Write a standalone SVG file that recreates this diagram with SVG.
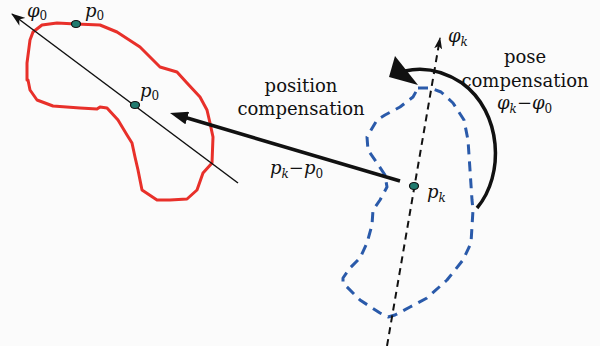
<svg xmlns="http://www.w3.org/2000/svg" width="609" height="346" viewBox="0 0 609 346">
<style>
.lbl{font-family:"DejaVu Serif","Liberation Serif",serif;font-size:18px;fill:#111;text-anchor:middle}
.m{font-family:"DejaVu Serif","Liberation Serif",serif;font-size:18px;fill:#111}
.it{font-style:italic}
.sub{font-size:12px}
.dot{fill:#1f7a6e;stroke:#111;stroke-width:1.2}
</style>
<defs>
<marker id="barb" viewBox="0 0 14 10" refX="13" refY="5" markerWidth="14" markerHeight="10" markerUnits="userSpaceOnUse" orient="auto">
<path d="M0,0 L14,5 L0,10 L4,5 Z" fill="#111"/>
</marker>
<marker id="barbS" viewBox="0 0 12 8" refX="11" refY="4" markerWidth="12" markerHeight="8" markerUnits="userSpaceOnUse" orient="auto">
<path d="M0,0 L12,4 L0,8 L3,4 Z" fill="#111"/>
</marker>
<marker id="tri" viewBox="0 0 18 13" refX="8" refY="6.5" markerWidth="18" markerHeight="13" markerUnits="userSpaceOnUse" orient="auto">
<path d="M0,0 L18,6.5 L0,13 Z" fill="#111"/>
</marker>
</defs>
<rect x="0" y="0" width="600" height="346" fill="#fbfbfb"/>
<rect x="600" y="0" width="9" height="346" fill="#ffffff"/>

<g id="contour-p0">
<polyline fill="none" stroke="#e8302a" stroke-width="3" stroke-linejoin="round" points="76,24 100,25 117,32 140,47 160,67 177,72 187,83 200,97 207,110 210,123 213,137 212,163 203,173 197,190 187,199 170,200 157,200 142,190 138,170 135,157 132,143 127,135 118,120 107,108 100,107 97,109 80,108 53,106 37,100 30,90 28,80 27,80 27,63 30,40 33,32 42,25 57,23 76,24"/>
</g>

<g id="contour-pk">
<path fill="none" stroke="#2a5aaa" stroke-width="3" stroke-dasharray="10 7" stroke-linejoin="round" d="M418,88 L430,88 L441,92 L453,103 L464,120 L468,140 L470,170 L472,200 L473,210 L471,243 L463,260 L447,280 L427,298 L410,307 L395,315 L388,317 L380,313 L360,300 L343,283 L343,278 L350,268 L360,258 L367,243 L372,225 L373,210 L380,200 L387,187 L385,175 L377,163 L368,150 L367,137 L377,120 L385,115 L400,107 L413,97 Z"/>
</g>

<g id="connectors">
<line id="axis-phi0" x1="238" y1="183" x2="12" y2="14" stroke="#111" stroke-width="1.5" marker-end="url(#barb)"/>
<line id="axis-phik" x1="387" y1="346" x2="440" y2="38" stroke="#111" stroke-width="2" stroke-dasharray="7 5" marker-end="url(#barbS)"/>
<line id="position-arrow" x1="400" y1="181" x2="179.6" y2="115.8" stroke="#111" stroke-width="3.5" marker-end="url(#tri)"/>
<g id="pose-arrow">
<path d="M477,208 C505,175 502,112 462,83 C442,70 422,67 405,71" fill="none" stroke="#111" stroke-width="3.5"/>
<polygon points="389,77 395,56 418,85" fill="#111"/>
</g>
</g>

<g id="point-p0-top">
<ellipse class="dot" cx="76" cy="24" rx="4.5" ry="3.5"/>
<text class="m" x="85" y="17"><tspan class="it">p</tspan><tspan class="sub" dy="3">0</tspan></text>
</g>
<g id="point-p0">
<ellipse class="dot" cx="135" cy="105" rx="4.5" ry="3.5"/>
<text class="m" x="140" y="97"><tspan class="it">p</tspan><tspan class="sub" dy="3">0</tspan></text>
</g>
<g id="label-phi0">
<text class="m" x="27" y="17"><tspan class="it">φ</tspan><tspan class="sub" dy="3">0</tspan></text>
</g>
<g id="point-pk">
<ellipse class="dot" cx="414" cy="186" rx="4.5" ry="3.5"/>
<text class="m" x="427" y="198"><tspan class="it">p</tspan><tspan class="sub it" dy="4">k</tspan></text>
</g>
<g id="label-phik">
<text class="m" x="448" y="42"><tspan class="it">φ</tspan><tspan class="sub it" dy="4">k</tspan></text>
</g>

<g id="label-position">
<text class="lbl" x="301" y="92">position</text>
<text class="lbl" x="301" y="115">compensation</text>
<text class="m" x="270" y="174"><tspan class="it">p</tspan><tspan class="sub it" dy="4">k</tspan><tspan dy="-4">−</tspan><tspan class="it">p</tspan><tspan class="sub" dy="4">0</tspan></text>
</g>
<g id="label-pose">
<text class="lbl" x="525" y="63">pose</text>
<text class="lbl" x="525" y="87">compensation</text>
<text class="m" x="497" y="109"><tspan class="it">φ</tspan><tspan class="sub it" dy="4">k</tspan><tspan dy="-4">−</tspan><tspan class="it">φ</tspan><tspan class="sub" dy="4">0</tspan></text>
</g>
</svg>
